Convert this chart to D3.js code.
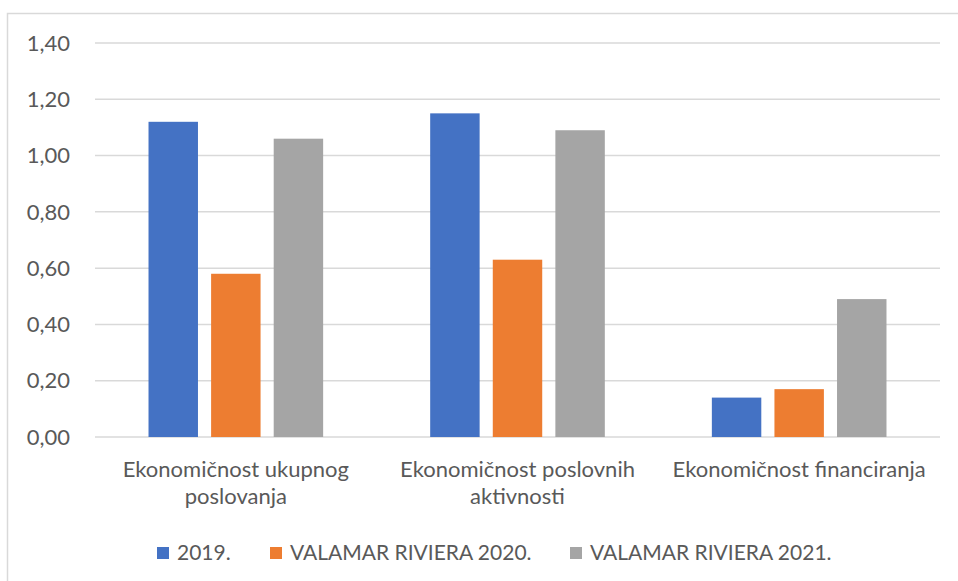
<!DOCTYPE html>
<html>
<head>
<meta charset="utf-8">
<script src="https://cdn.jsdelivr.net/npm/d3@7"></script>
<style>
    body { margin: 0; background: white; }
    text { font-family: Lato, "Open Sans", sans-serif; fill: #595959; }
</style>
</head>
<body>
<script>
const categories = ["Ekonomičnost ukupnog poslovanja", "Ekonomičnost poslovnih aktivnosti", "Ekonomičnost financiranja"];
const categoryLines = [["Ekonomičnost ukupnog", "poslovanja"], ["Ekonomičnost poslovnih", "aktivnosti"], ["Ekonomičnost financiranja"]];
const seriesNames = ["2019.", "VALAMAR RIVIERA 2020.", "VALAMAR RIVIERA 2021."];
const values2019 = [1.12, 1.15, 0.14];
const values2020 = [0.58, 0.63, 0.17];
const values2021 = [1.06, 1.09, 0.49];
const yTicks = [0, 0.2, 0.4, 0.6, 0.8, 1.0, 1.2, 1.4];
const colors = ["#4472C4", "#ED7D31", "#A5A5A5"];

function renderChart() {
    const wSvg = 958;
    const hSvg = 581;
    const plotLeft = 95;
    const plotRight = 940;
    const plotTop = 43;
    const plotBottom = 437;

    const allValues = [values2019, values2020, values2021];
    const rows = categories.map((c, i) => ({
        cat: c,
        vals: allValues.map((arr, s) => ({ s: s, v: arr[i] }))
    }));

    const svg = d3.select("body")
        .append("svg")
        .attr("width", wSvg)
        .attr("height", hSvg);

    // chart frame
    svg.append("rect")
        .attr("x", 7.5)
        .attr("y", 13.5)
        .attr("width", wSvg)
        .attr("height", hSvg)
        .attr("fill", "none")
        .attr("stroke", "#d9d9d9")
        .attr("stroke-width", 1.5);

    const y = d3.scaleLinear([0, 1.4], [plotBottom, plotTop]);
    const x0 = d3.scaleBand(categories, [plotLeft, plotRight])
        .paddingInner(0.38)
        .paddingOuter(0.19);
    const x1 = d3.scaleBand(d3.range(3), [0, x0.bandwidth()])
        .paddingInner(0.21);
    const xCat = d3.scaleBand(categories, [plotLeft, plotRight]);

    // gridlines
    svg.append("g")
        .selectAll("line")
        .data(yTicks)
        .enter()
        .append("line")
        .attr("x1", plotLeft)
        .attr("x2", plotRight)
        .attr("y1", d => y(d))
        .attr("y2", d => y(d))
        .attr("stroke", "#d9d9d9")
        .attr("stroke-width", 1.5);

    // y labels
    svg.append("g")
        .selectAll("text")
        .data(yTicks)
        .enter()
        .append("text")
        .attr("x", 70)
        .attr("y", d => y(d))
        .attr("dy", "0.35em")
        .attr("text-anchor", "end")
        .style("font-size", "22px")
        .text(d => d.toFixed(2).replace(".", ","));

    // bars
    svg.append("g")
        .selectAll("g")
        .data(rows)
        .enter()
        .append("g")
        .attr("transform", d => `translate(${x0(d.cat)}, 0)`)
        .selectAll("rect")
        .data(d => d.vals)
        .enter()
        .append("rect")
        .attr("x", d => x1(d.s))
        .attr("y", d => y(d.v))
        .attr("width", x1.bandwidth())
        .attr("height", d => y(0) - y(d.v))
        .attr("fill", d => colors[d.s]);

    // category labels
    const catText = svg.append("g")
        .selectAll("text")
        .data(categories)
        .enter()
        .append("text")
        .attr("text-anchor", "middle")
        .style("font-size", "22px");

    catText.selectAll("tspan")
        .data((d, i) => categoryLines[i].map(t => ({ t: t, cat: d })))
        .enter()
        .append("tspan")
        .attr("x", d => xCat(d.cat) + xCat.bandwidth() / 2)
        .attr("y", (d, i) => 477 + i * 27)
        .text(d => d.t);

    // legend
    const legendX = [157, 270, 570];
    const legend = svg.append("g")
        .selectAll("g")
        .data(seriesNames)
        .enter()
        .append("g")
        .attr("transform", (d, i) => `translate(${legendX[i]}, 547)`);

    legend.append("rect")
        .attr("width", 12)
        .attr("height", 12)
        .attr("fill", (d, i) => colors[i]);

    legend.append("text")
        .attr("x", 20)
        .attr("y", 13)
        .style("font-size", "21px")
        .text(d => d);
}

renderChart();
</script>
</body>
</html>
